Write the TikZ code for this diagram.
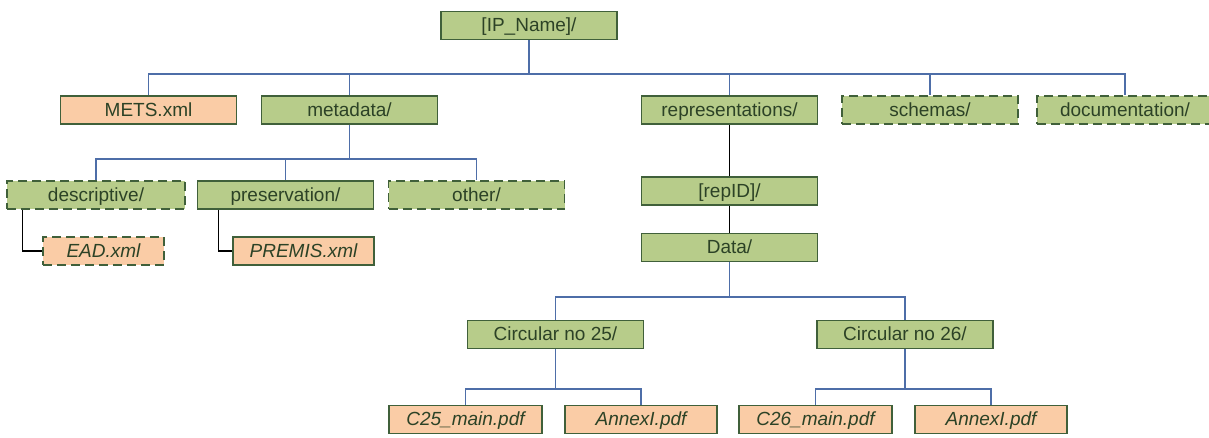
\documentclass[tikz,border=0pt]{standalone}
\usepackage{fontspec}
\setmainfont{Liberation Sans}
\definecolor{dirfill}{HTML}{B7CC8A}
\definecolor{filefill}{HTML}{FACCA6}
\definecolor{boxline}{HTML}{40603A}
\definecolor{txt}{HTML}{2C4226}
\definecolor{busline}{HTML}{4E6EA8}
\begin{document}
\begin{tikzpicture}[x=1pt,y=-1pt,
  box/.style={draw=boxline,line width=1.7pt,minimum height=28pt,inner sep=0pt,
    text=txt,text height=15.5pt,text depth=3.5pt,font=\fontsize{19}{21}\selectfont},
  dir/.style={box,fill=dirfill,minimum width=176pt},
  file/.style={box,fill=filefill},
  optional/.style={dash pattern=on 9pt off 5pt},
  leaf/.style={file,font=\fontsize{19}{21}\selectfont\itshape},
  bus/.style={draw=busline,line width=1.3pt},
  link/.style={draw=black,line width=1.3pt}]
\useasboundingbox (0,0) rectangle (1209,437);

% root
\node[dir] (ip) at (529,25.5) {[IP\_Name]/};

% first level
\node[file,minimum width=176pt] (mets) at (148.5,110) {METS.xml};
\node[dir] (meta) at (349.5,110) {metadata/};
\node[dir] (repr) at (729.5,110) {representations/};
\node[dir,optional] (schemas) at (930,110) {schemas/};
\node[dir,optional] (doc) at (1125,110) {documentation/};

% metadata children
\node[dir,optional,minimum width=178pt] (desc) at (96,195) {descriptive/};
\node[dir] (pres) at (285.5,195) {preservation/};
\node[dir,optional] (other) at (476.5,195) {other/};
\node[leaf,optional,minimum width=121pt] (ead) at (103.5,251) {EAD.xml};
\node[leaf,minimum width=141pt] (premis) at (303.5,251) {PREMIS.xml};

% representation chain
\node[dir] (repid) at (729.5,191) {[repID]/};
\node[dir] (data) at (729.5,247.5) {Data/};
\node[dir] (c25) at (555.5,334.5) {Circular no 25/};
\node[dir] (c26) at (905,334.5) {Circular no 26/};
\node[leaf,minimum width=153pt] (c25main) at (465.5,419.5) {C25\_main.pdf};
\node[leaf,minimum width=152pt] (annexa) at (641,419.5) {AnnexI.pdf};
\node[leaf,minimum width=153pt] (c26main) at (815.5,419.5) {C26\_main.pdf};
\node[leaf,minimum width=152pt] (annexb) at (991,419.5) {AnnexI.pdf};

% bus heights
\coordinate (busroot) at (0,74);
\coordinate (busmeta) at (0,159);
\coordinate (busdata) at (0,297);
\coordinate (buscirc) at (0,389);

% root connectors
\foreach \c in {mets,meta,repr,schemas,doc}
  \draw[bus] (ip.south) -- (ip.south |- busroot) -| (\c.north);

% metadata connectors
\foreach \c in {desc,pres,other}
  \draw[bus] (meta.south) -- (meta.south |- busmeta) -| (\c.north);
\draw[link] ([xshift=16pt]desc.south west) |- (ead.west);
\draw[link] ([xshift=22pt]pres.south west) |- (premis.west);

% representations
\draw[link] (repr.south) -- (repid.north);
\draw[link] (repid.south) -- (data.north);
\foreach \c in {c25,c26}
  \draw[bus] (data.south) -- (data.south |- busdata) -| (\c.north);
\foreach \c in {c25main,annexa}
  \draw[bus] (c25.south) -- (c25.south |- buscirc) -| (\c.north);
\foreach \c in {c26main,annexb}
  \draw[bus] (c26.south) -- (c26.south |- buscirc) -| (\c.north);
\end{tikzpicture}
\end{document}
